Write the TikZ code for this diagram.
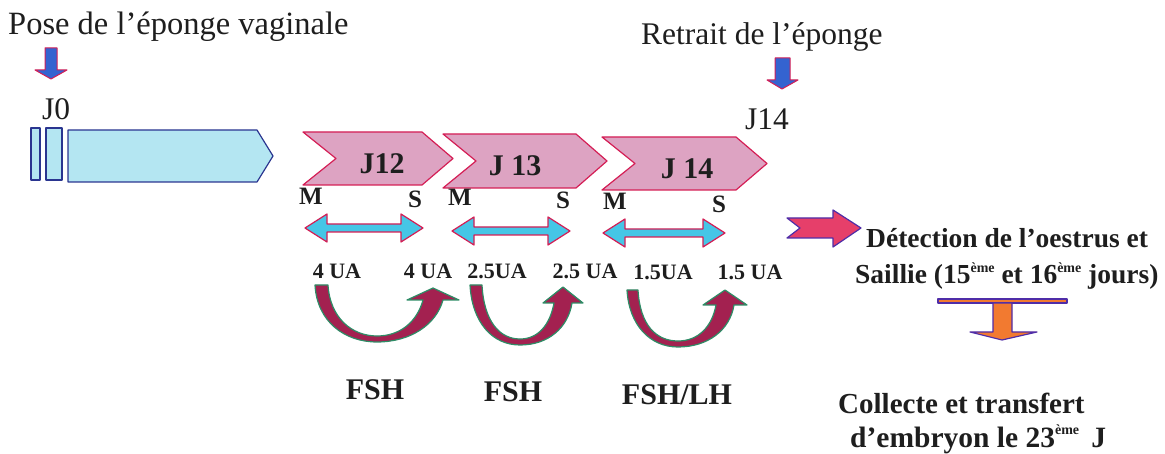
\documentclass[tikz,border=0pt]{standalone}
\usepackage{fontspec}
\setmainfont{Liberation Serif}
\definecolor{ink}{HTML}{1E1E1E}
\definecolor{cyanL}{HTML}{B4E6F2}
\definecolor{navyE}{HTML}{2A3590}
\definecolor{pinkL}{HTML}{DDA3C2}
\definecolor{crimsonE}{HTML}{D41E55}
\definecolor{cyanM}{HTML}{45C6E6}
\definecolor{maroonF}{HTML}{A32150}
\definecolor{greenE}{HTML}{2E8C66}
\definecolor{blueA}{HTML}{3463D0}
\definecolor{pinkR}{HTML}{E63F6A}
\definecolor{purpleE}{HTML}{4F2DA8}
\definecolor{orangeA}{HTML}{F27A30}
\newcommand\dblarr[3]{%
  \draw[dbl] (#1,#3) -- ({#1+22},{#3-14}) -- ({#1+22},{#3-4}) -- ({#2-22},{#3-4}) -- ({#2-22},{#3-14}) -- (#2,#3) -- ({#2-22},{#3+14}) -- ({#2-22},{#3+4}) -- ({#1+22},{#3+4}) -- ({#1+22},{#3+14}) -- cycle;}
\newcommand\chevr[4]{% left x, top y, bottom y, width
  \draw[chev] (#1,#2) -- ({#1+#4-31},#2) -- ({#1+#4},{(#2+#3)/2}) -- ({#1+#4-31},#3) -- (#1,#3) -- ({#1+33},{(#2+#3)/2}) -- cycle;}
\newcommand\supx[1]{\raisebox{0.42em}{\fontsize{14}{14}\selectfont #1}}
\begin{document}
\begin{tikzpicture}[x=1pt,y=-1pt,line join=round,
  lbl/.style={inner sep=0pt, text=ink, font=\fontsize{31.5}{31.5}\selectfont},
  blbl/.style={inner sep=0pt, text=ink, font=\bfseries\fontsize{#1}{#1}\selectfont},
  cyanbar/.style={fill=cyanL, draw=navyE, line width=1.2pt},
  chev/.style={fill=pinkL, draw=crimsonE, line width=1.2pt},
  dbl/.style={fill=cyanM, draw=crimsonE, line width=1.2pt},
  curv/.style={fill=maroonF, draw=greenE, line width=1.2pt},
  bluearr/.style={fill=blueA, draw=crimsonE, line width=1pt},
  notcharr/.style={fill=pinkR, draw=purpleE, line width=1.2pt},
  tarr/.style={fill=orangeA, draw=purpleE, line width=1.2pt}]
\useasboundingbox (0,0) rectangle (1165,454);

% top labels
\node[lbl, anchor=base west, font=\fontsize{32.5}{32.5}\selectfont] (pose) at (8,35) {Pose de l’éponge vaginale};
\node[lbl, anchor=base west] (retrait) at (641,45) {Retrait de l’éponge};
\node[lbl, anchor=base west] (j0) at (42,120) {J0};
\node[lbl, anchor=base west] (j14top) at (745,130) {J14};

% blue down arrows
\draw[bluearr] (45,48) -- (57,48) -- (57,70) -- (67,70) -- (51,79) -- (35,70) -- (45,70) -- cycle;
\draw[bluearr] (775,58) -- (790,58) -- (790,80) -- (798,80) -- (782,89) -- (767,80) -- (775,80) -- cycle;

% cyan sponge bar
\draw[cyanbar] (31,128) rectangle (40,180);
\draw[cyanbar] (46,128) rectangle (62,180);
\draw[cyanbar] (68,130) -- (257,130) -- (273,156) -- (257,182) -- (68,182) -- cycle;

% chevrons
\chevr{303}{132}{185}{150}
\chevr{443}{134}{188}{164}
\chevr{602}{137}{190}{165}
\node[blbl=30] (j12) at (382,164) {J12};
\node[blbl=30] (j13) at (515,166) {J 13};
\node[blbl=30] (j14) at (687,169) {J 14};

% M / S
\node[blbl=25] (m1) at (311,196) {M};
\node[blbl=25] (s1) at (415,199) {S};
\node[blbl=25] (m2) at (460,197) {M};
\node[blbl=25] (s2) at (563,200) {S};
\node[blbl=25] (m3) at (615,201) {M};
\node[blbl=25] (s3) at (719,204) {S};

% double arrows
\dblarr{305}{423}{228}
\dblarr{452}{570}{231}
\dblarr{603}{725}{233}

% doses
\node[blbl=22] (d1) at (337,271) {4 UA};
\node[blbl=22] (d2) at (428,271) {4 UA};
\node[blbl=22] (d3) at (497,271) {2.5UA};
\node[blbl=22] (d4) at (585,271) {2.5 UA};
\node[blbl=22] (d5) at (663,272) {1.5UA};
\node[blbl=22] (d6) at (750,272) {1.5 UA};

% curved arrows
\draw[curv] (315,285) .. controls (317,322) and (345,342) .. (377,342) .. controls (410,342) and (436,325) .. (443,300) -- (459,300) -- (433,288) -- (407,300) -- (423,300) .. controls (417,322) and (400,336) .. (377,336) .. controls (352,336) and (330,318) .. (328,285) -- cycle;
\draw[curv] (470,285) .. controls (472,322) and (492,345) .. (520,345) .. controls (548,345) and (568,328) .. (572,303) -- (583,303) -- (563,287) -- (543,303) -- (554,303) .. controls (550,325) and (538,339) .. (520,339) .. controls (500,339) and (484,322) .. (482,285) -- cycle;
\draw[curv] (627,290) .. controls (629,325) and (650,347) .. (678,347) .. controls (708,347) and (730,330) .. (734,305) -- (747,305) -- (725,290) -- (703,305) -- (716,305) .. controls (712,327) and (698,341) .. (678,341) .. controls (656,341) and (640,325) .. (638,290) -- cycle;

% hormones
\node[blbl=30] (fsh1) at (375,390) {FSH};
\node[blbl=30] (fsh2) at (513,392) {FSH};
\node[blbl=30] (fsh3) at (677,395) {FSH/LH};

% right side
\draw[notcharr] (787,218) -- (833,218) -- (833,210) -- (861,228) -- (833,247) -- (833,238) -- (787,238) -- (800,228) -- cycle;
\node[blbl=27.5, anchor=base west] (det) at (866,248) {Détection de l’oestrus et};
\node[blbl=27.5, anchor=base west] (sail) at (855,284) {Saillie (15\supx{ème} et 16\supx{ème} jours)};

\draw[tarr] (938,299) rectangle (1067,303);
\draw[tarr] (993,303) -- (1012,303) -- (1012,332) -- (1037,332) -- (1002,340) -- (970,332) -- (993,332) -- cycle;

\node[blbl=29, anchor=base west] (coll) at (838,413) {Collecte et transfert};
\node[blbl=29.5, anchor=base west] (embr) at (850,447) {d’embryon le 23\supx{ème}\, J};
\end{tikzpicture}
\end{document}
